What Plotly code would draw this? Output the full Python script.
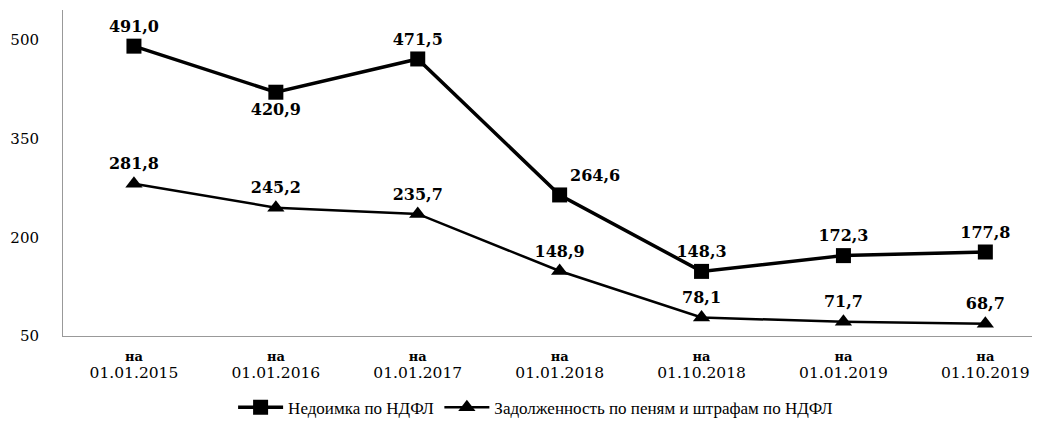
import plotly.graph_objects as go

categories = ["01.01.2015", "01.01.2016", "01.01.2017", "01.01.2018",
              "01.10.2018", "01.01.2019", "01.10.2019"]
nedoimka = [491.0, 420.9, 471.5, 264.6, 148.3, 172.3, 177.8]
peni = [281.8, 245.2, 235.7, 148.9, 78.1, 71.7, 68.7]
nedoimka_pos = ["top center", "bottom center", "top center", "top right",
                "top center", "top center", "top center"]
y_ticks = [50, 200, 350, 500]

def fmt(v):
    return f"{v:.1f}".replace(".", ",")

tick_text = [f"<b>на</b><br><span style='font-size:15.5px'>{c}</span>" for c in categories]
x = list(range(len(categories)))

fig = go.Figure()
fig.add_trace(go.Scatter(
    x=x, y=nedoimka, mode="lines+markers+text",
    name="Недоимка по НДФЛ",
    line=dict(color="black", width=3.5),
    marker=dict(symbol="square", size=15, color="black"),
    text=[f"<b>{fmt(v)}</b>" for v in nedoimka],
    textposition=nedoimka_pos,
    textfont=dict(family="DejaVu Serif", size=16, color="black"),
    cliponaxis=False,
))
fig.add_trace(go.Scatter(
    x=x, y=peni, mode="lines+markers+text",
    name="Задолженность по пеням и штрафам по НДФЛ",
    line=dict(color="black", width=2.5),
    marker=dict(symbol="triangle-up", size=15, color="black"),
    text=[f"<b>{fmt(v)}</b>" for v in peni],
    textposition="top center",
    textfont=dict(family="DejaVu Serif", size=16, color="black"),
    cliponaxis=False,
))

fig.update_layout(
    width=1032, height=413,
    margin=dict(l=55, r=5, t=2, b=85, autoexpand=False),
    paper_bgcolor="white", plot_bgcolor="white",
    showlegend=True,
    legend=dict(orientation="h", x=0.175, y=-0.22, xanchor="left", yanchor="middle",
                font=dict(family="Liberation Serif", size=17, color="black"),
                itemwidth=45, tracegroupgap=0),
    font=dict(family="DejaVu Serif", color="black"),
)
fig.update_xaxes(
    range=[-0.5, 6.35], tickmode="array", tickvals=x, ticktext=tick_text,
    showgrid=False, zeroline=False, showline=True, linecolor="#999",
    linewidth=1, ticks="", automargin=False, ticklabelstandoff=8,
    tickfont=dict(family="DejaVu Serif", size=13, color="black"),
)
fig.update_yaxes(
    range=[50, 546], tickmode="array", tickvals=y_ticks,
    showgrid=False, zeroline=False, showline=True, linecolor="#999",
    linewidth=1, ticks="", ticklabelstandoff=20, automargin=False,
    tickfont=dict(family="DejaVu Serif", size=15, color="black"),
)

fig.write_html("out.html")
